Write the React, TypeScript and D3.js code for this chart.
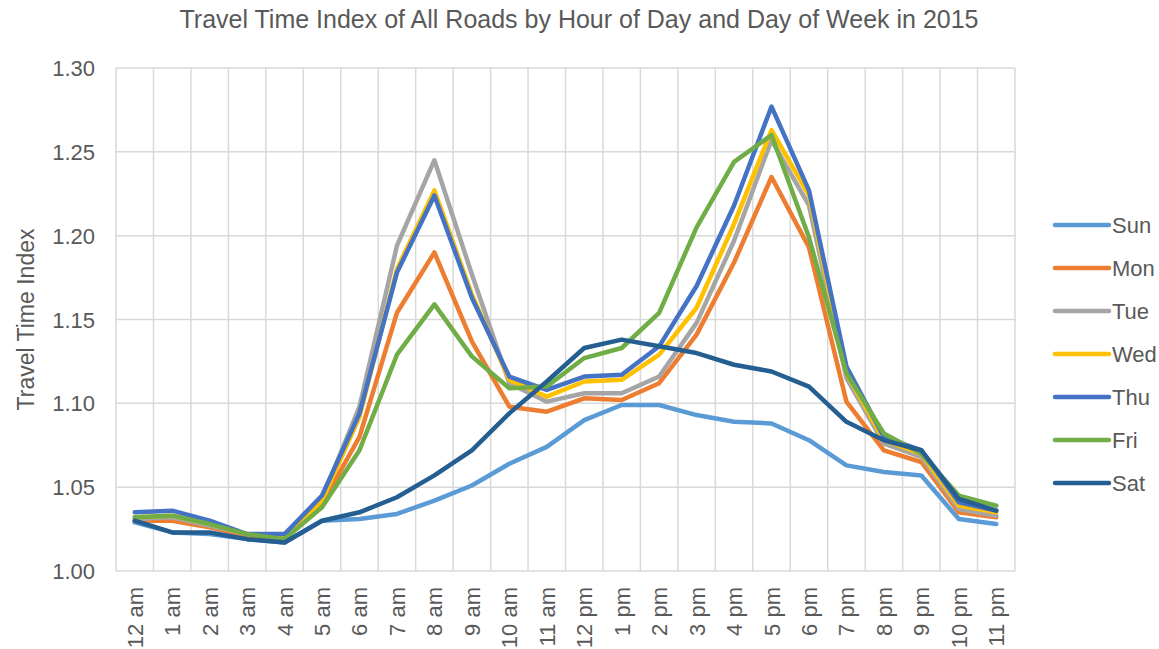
import React, { useEffect, useRef } from "react";
import * as d3 from "d3";

const hours = ["12 am","1 am","2 am","3 am","4 am","5 am","6 am","7 am","8 am","9 am","10 am","11 am",
  "12 pm","1 pm","2 pm","3 pm","4 pm","5 pm","6 pm","7 pm","8 pm","9 pm","10 pm","11 pm"];

const sun = [1.029,1.023,1.022,1.019,1.017,1.030,1.031,1.034,1.042,1.051,1.064,1.074,1.090,1.099,1.099,1.093,1.089,1.088,1.078,1.063,1.059,1.057,1.031,1.028];
const mon = [1.030,1.030,1.026,1.021,1.019,1.040,1.080,1.154,1.190,1.137,1.098,1.095,1.103,1.102,1.112,1.141,1.184,1.235,1.193,1.101,1.072,1.065,1.035,1.032];
const tue = [1.031,1.032,1.027,1.022,1.020,1.043,1.098,1.194,1.245,1.177,1.112,1.101,1.106,1.106,1.116,1.148,1.197,1.257,1.218,1.115,1.076,1.068,1.037,1.033];
const wed = [1.032,1.033,1.028,1.022,1.020,1.042,1.092,1.180,1.227,1.165,1.114,1.104,1.113,1.114,1.129,1.157,1.207,1.263,1.224,1.118,1.078,1.070,1.039,1.035];
const thu = [1.035,1.036,1.030,1.022,1.022,1.045,1.094,1.178,1.224,1.163,1.116,1.108,1.116,1.117,1.134,1.170,1.218,1.277,1.227,1.122,1.080,1.072,1.041,1.036];
const fri = [1.032,1.033,1.028,1.022,1.019,1.038,1.072,1.129,1.159,1.128,1.109,1.110,1.127,1.133,1.154,1.205,1.244,1.260,1.199,1.118,1.082,1.070,1.045,1.039];
const sat = [1.030,1.023,1.023,1.019,1.017,1.030,1.035,1.044,1.057,1.072,1.094,1.113,1.133,1.138,1.134,1.130,1.123,1.119,1.110,1.089,1.078,1.072,1.043,1.036];

const seriesNames = ["Sun","Mon","Tue","Wed","Thu","Fri","Sat"];
const seriesValues = [sun, mon, tue, wed, thu, fri, sat];
const seriesColors = ["#5B9BD5","#ED7D31","#A5A5A5","#FFC000","#4472C4","#70AD47","#255E91"];
const yTicks = [1.0, 1.05, 1.1, 1.15, 1.2, 1.25, 1.3];

const W = 1159, H = 649;
const M = { left: 116, right: 1015, top: 68, bottom: 571 };
const FONT = "'Liberation Sans', Arial, sans-serif";
const TXT = "#595959";

export default function App() {
  const ref = useRef<SVGSVGElement>(null);

  useEffect(() => {
    const svg = d3.select(ref.current);
    svg.selectAll("*").remove();

    const x = d3.scaleBand().domain(hours).range([M.left, M.right]);
    const y = d3.scaleLinear().domain([1.0, 1.3]).range([M.bottom, M.top]);

    // title
    svg.append("text")
      .attr("x", 579).attr("y", 28)
      .attr("text-anchor", "middle")
      .attr("font-size", 25).attr("fill", TXT)
      .text("Travel Time Index of All Roads by Hour of Day and Day of Week in 2015");

    // grid
    const grid = svg.append("g").attr("stroke", "#d9d9d9").attr("stroke-width", 1.5);
    grid.selectAll("line.h").data(yTicks).enter().append("line")
      .attr("x1", M.left).attr("x2", M.right)
      .attr("y1", d => y(d)).attr("y2", d => y(d));
    const edges = hours.map(h => x(h) as number).concat([M.right]);
    grid.selectAll("line.v").data(edges).enter().append("line")
      .attr("y1", M.top).attr("y2", M.bottom)
      .attr("x1", d => d).attr("x2", d => d);

    // y axis labels
    svg.append("g").selectAll("text").data(yTicks).enter().append("text")
      .attr("x", 95).attr("y", d => y(d) + 8)
      .attr("text-anchor", "end")
      .attr("font-size", 22).attr("fill", TXT)
      .text(d => d.toFixed(2));

    svg.append("text")
      .attr("transform", `translate(34,${(M.top + M.bottom) / 2}) rotate(-90)`)
      .attr("text-anchor", "middle")
      .attr("font-size", 23).attr("fill", TXT)
      .text("Travel Time Index");

    // x axis labels
    svg.append("g").selectAll("text").data(hours).enter().append("text")
      .attr("transform", d => `translate(${(x(d) as number) + x.bandwidth() / 2 + 8},587) rotate(-90)`)
      .attr("text-anchor", "end")
      .attr("font-size", 22).attr("fill", TXT)
      .text(d => d);

    // lines
    const line = d3.line<number>()
      .x((_, i) => (x(hours[i]) as number) + x.bandwidth() / 2)
      .y(d => y(d));
    seriesValues.forEach((vals, i) => {
      svg.append("path")
        .attr("d", line(vals))
        .attr("fill", "none")
        .attr("stroke", seriesColors[i])
        .attr("stroke-width", 4.5)
        .attr("stroke-linejoin", "round")
        .attr("stroke-linecap", "round");
    });

    // legend
    const lg = svg.append("g").selectAll("g").data(seriesNames).enter().append("g")
      .attr("transform", (_, i) => `translate(0,${225 + i * 43})`);
    lg.append("line")
      .attr("x1", 1055).attr("x2", 1109)
      .attr("stroke", (_, i) => seriesColors[i])
      .attr("stroke-width", 4.5).attr("stroke-linecap", "round");
    lg.append("text")
      .attr("x", 1112).attr("y", 8)
      .attr("font-size", 22).attr("fill", TXT)
      .text(d => d);
  }, []);

  return (
    <svg ref={ref} width={W} height={H}
      style={{ position: "absolute", left: 0, top: 0, fontFamily: FONT, background: "#fff" }} />
  );
}
